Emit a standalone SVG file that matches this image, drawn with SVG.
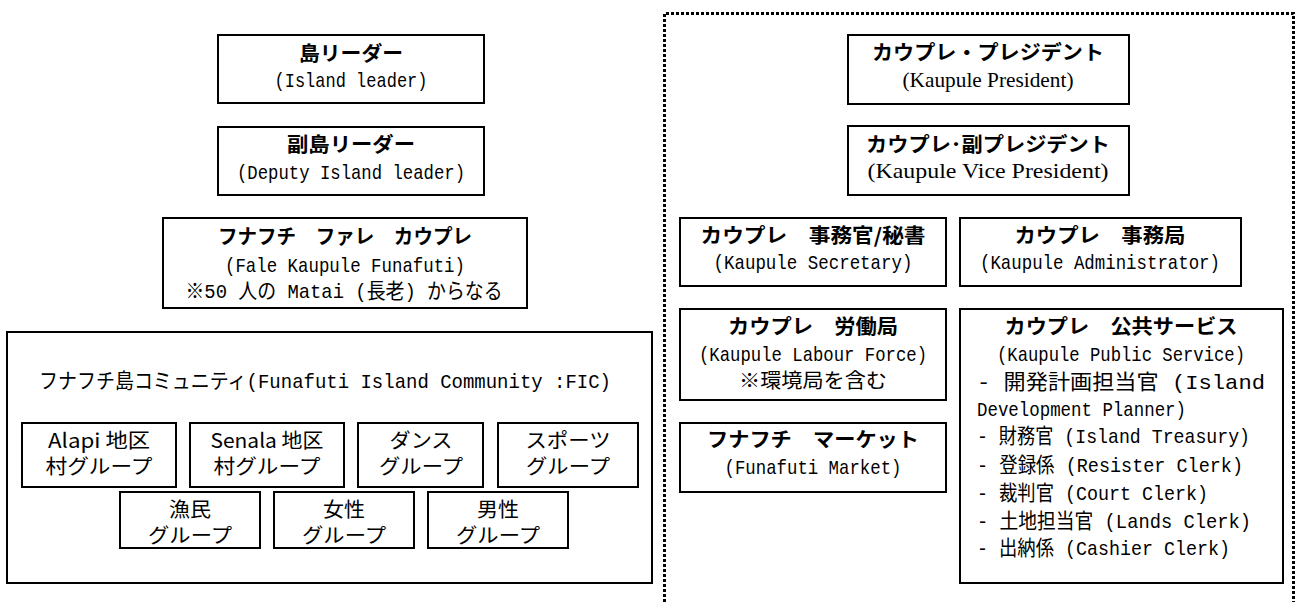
<svg xmlns="http://www.w3.org/2000/svg" width="1299" height="602" viewBox="0 0 1299 602">
<style>
.box{fill:#fff;stroke:#000;stroke-width:2}
.frame{fill:none;stroke:#000;stroke-width:3;stroke-dasharray:3 2}
.jb{font-family:"Noto Sans CJK JP",sans-serif;font-weight:bold;font-size:20px;fill:#000;text-anchor:middle}
.jr{font-family:"Noto Sans CJK JP",sans-serif;font-size:20px;fill:#000;text-anchor:middle}
.m{font-family:"Liberation Mono","Noto Sans CJK JP",monospace;font-size:21px;fill:#000;text-anchor:middle}
.ml{font-family:"Liberation Mono","Noto Sans CJK JP",monospace;font-size:21px;fill:#000}
.s{font-family:"Liberation Serif","Noto Sans CJK JP",serif;font-size:21px;fill:#000;text-anchor:middle}
</style>
<rect width="1299" height="602" fill="#fff"/>
<g id="connectors"/>
<g id="island-leader">
<rect class="box" x="218" y="35" width="266" height="68"/>
<text class="jb" x="351" y="61" textLength="104" lengthAdjust="spacingAndGlyphs">島リーダー</text>
<text class="m" x="351" y="87" textLength="153" lengthAdjust="spacingAndGlyphs">(Island leader)</text>
</g>
<g id="deputy-leader">
<rect class="box" x="218" y="127" width="266" height="68"/>
<text class="jb" x="351" y="152" textLength="128" lengthAdjust="spacingAndGlyphs">副島リーダー</text>
<text class="m" x="351" y="179" textLength="228" lengthAdjust="spacingAndGlyphs">(Deputy Island leader)</text>
</g>
<g id="fale-kaupule">
<rect class="box" x="163" y="218" width="364" height="90"/>
<text class="jb" x="345" y="244" textLength="254" lengthAdjust="spacingAndGlyphs">フナフチ　ファレ　カウプレ</text>
<text class="m" x="345" y="272" textLength="240" lengthAdjust="spacingAndGlyphs">(Fale Kaupule Funafuti)</text>
<text class="m" x="344" y="298" textLength="317" lengthAdjust="spacingAndGlyphs">※50 人の Matai (長老) からなる</text>
</g>
<g id="fic">
<rect class="box" x="7" y="332" width="645" height="251"/>
<text class="ml" x="39" y="388" textLength="572" lengthAdjust="spacingAndGlyphs"><tspan font-family="Noto Sans CJK JP" font-size="21">フナフチ島コミュニティ</tspan>(Funafuti Island Community :FIC)</text>
</g>
<g id="alapi">
<rect class="box" x="22" y="423" width="154" height="64"/>
<text class="jr" x="99" y="448" textLength="102" lengthAdjust="spacingAndGlyphs">Alapi 地区</text>
<text class="jr" x="99" y="474" textLength="107" lengthAdjust="spacingAndGlyphs">村グループ</text>
</g>
<g id="senala">
<rect class="box" x="190" y="423" width="154" height="64"/>
<text class="jr" x="267" y="448" textLength="113" lengthAdjust="spacingAndGlyphs">Senala 地区</text>
<text class="jr" x="267" y="474" textLength="107" lengthAdjust="spacingAndGlyphs">村グループ</text>
</g>
<g id="dance">
<rect class="box" x="358" y="423" width="125" height="64"/>
<text class="jr" x="421" y="448" textLength="63" lengthAdjust="spacingAndGlyphs">ダンス</text>
<text class="jr" x="421" y="474" textLength="84" lengthAdjust="spacingAndGlyphs">グループ</text>
</g>
<g id="sports">
<rect class="box" x="498" y="423" width="140" height="64"/>
<text class="jr" x="568" y="448" textLength="85" lengthAdjust="spacingAndGlyphs">スポーツ</text>
<text class="jr" x="568" y="474" textLength="84" lengthAdjust="spacingAndGlyphs">グループ</text>
</g>
<g id="fishermen">
<rect class="box" x="120" y="492" width="140" height="56"/>
<text class="jr" x="190" y="517" textLength="42" lengthAdjust="spacingAndGlyphs">漁民</text>
<text class="jr" x="190" y="543" textLength="84" lengthAdjust="spacingAndGlyphs">グループ</text>
</g>
<g id="women">
<rect class="box" x="274" y="492" width="140" height="56"/>
<text class="jr" x="344" y="517" textLength="42" lengthAdjust="spacingAndGlyphs">女性</text>
<text class="jr" x="344" y="543" textLength="84" lengthAdjust="spacingAndGlyphs">グループ</text>
</g>
<g id="men">
<rect class="box" x="428" y="492" width="140" height="56"/>
<text class="jr" x="498" y="517" textLength="42" lengthAdjust="spacingAndGlyphs">男性</text>
<text class="jr" x="498" y="543" textLength="84" lengthAdjust="spacingAndGlyphs">グループ</text>
</g>
<g id="kaupule-frame">
<path class="frame" d="M664.5,612 V13.5 H1293.5 V612"/>
</g>
<g id="president">
<rect class="box" x="848" y="35" width="281" height="69"/>
<text class="jb" x="988" y="60" textLength="232" lengthAdjust="spacingAndGlyphs">カウプレ・プレジデント</text>
<text class="s" x="988" y="87" textLength="171" lengthAdjust="spacingAndGlyphs">(Kaupule President)</text>
</g>
<g id="vice-president">
<rect class="box" x="848" y="126" width="281" height="69"/>
<text class="jb" x="988" y="152" textLength="244" lengthAdjust="spacingAndGlyphs">カウプレ･副プレジデント</text>
<text class="s" x="988" y="178" textLength="241" lengthAdjust="spacingAndGlyphs">(Kaupule Vice President)</text>
</g>
<g id="secretary">
<rect class="box" x="680" y="218" width="266" height="68"/>
<text class="jb" x="813" y="243" textLength="225" lengthAdjust="spacingAndGlyphs">カウプレ　事務官/秘書</text>
<text class="m" x="813" y="269" textLength="199" lengthAdjust="spacingAndGlyphs">(Kaupule Secretary)</text>
</g>
<g id="administrator">
<rect class="box" x="960" y="218" width="281" height="68"/>
<text class="jb" x="1100" y="243" textLength="171" lengthAdjust="spacingAndGlyphs">カウプレ　事務局</text>
<text class="m" x="1100" y="269" textLength="240" lengthAdjust="spacingAndGlyphs">(Kaupule Administrator)</text>
</g>
<g id="labour-force">
<rect class="box" x="680" y="309" width="266" height="91"/>
<text class="jb" x="813" y="334" textLength="170" lengthAdjust="spacingAndGlyphs">カウプレ　労働局</text>
<text class="m" x="813" y="361" textLength="228" lengthAdjust="spacingAndGlyphs">(Kaupule Labour Force)</text>
<text class="jr" x="813" y="388" textLength="148" lengthAdjust="spacingAndGlyphs">※環境局を含む</text>
</g>
<g id="market">
<rect class="box" x="680" y="423" width="266" height="69"/>
<text class="jb" x="813" y="447" textLength="212" lengthAdjust="spacingAndGlyphs">フナフチ　マーケット</text>
<text class="m" x="813" y="474" textLength="177" lengthAdjust="spacingAndGlyphs">(Funafuti Market)</text>
</g>
<g id="public-service">
<rect class="box" x="960" y="309" width="323" height="274"/>
<text class="jb" x="1121" y="334" textLength="233" lengthAdjust="spacingAndGlyphs">カウプレ　公共サービス</text>
<text class="m" x="1121" y="361" textLength="248" lengthAdjust="spacingAndGlyphs">(Kaupule Public Service)</text>
<text class="ml" x="977" y="389" textLength="288" lengthAdjust="spacingAndGlyphs">- 開発計画担当官 (Island</text>
<text class="ml" x="977" y="416" textLength="209" lengthAdjust="spacingAndGlyphs">Development Planner)</text>
<text class="ml" x="977" y="443" textLength="273" lengthAdjust="spacingAndGlyphs">- 財務官 (Island Treasury)</text>
<text class="ml" x="977" y="472" textLength="266" lengthAdjust="spacingAndGlyphs">- 登録係 (Resister Clerk)</text>
<text class="ml" x="977" y="500" textLength="231" lengthAdjust="spacingAndGlyphs">- 裁判官 (Court Clerk)</text>
<text class="ml" x="977" y="528" textLength="274" lengthAdjust="spacingAndGlyphs">- 土地担当官 (Lands Clerk)</text>
<text class="ml" x="977" y="555" textLength="253" lengthAdjust="spacingAndGlyphs">- 出納係 (Cashier Clerk)</text>
</g>
</svg>
